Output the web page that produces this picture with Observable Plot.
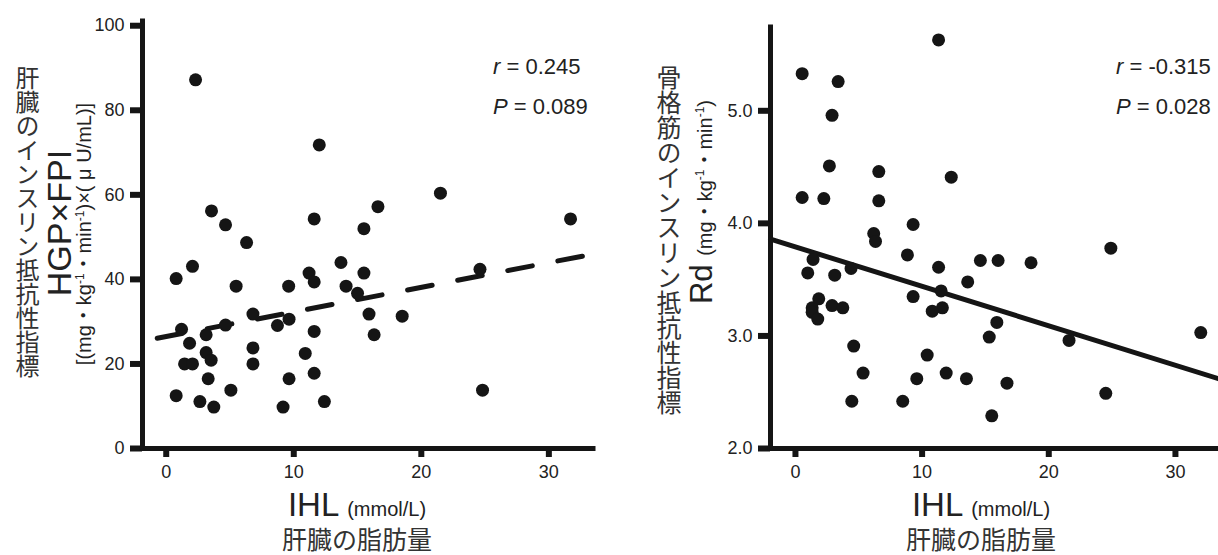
<!DOCTYPE html>
<html>
<head>
<meta charset="utf-8">
<script src="https://cdn.jsdelivr.net/npm/d3@7"></script>
<script src="https://cdn.jsdelivr.net/npm/@observablehq/plot@0.6"></script>
<style>
  html, body { margin: 0; padding: 0; background: #fff; }
  #root { position: relative; width: 1218px; height: 555px; overflow: hidden;
          font-family: "Liberation Sans", Arial, "Noto Sans CJK JP", sans-serif; color: #222; }
  .plot { position: absolute; top: 0; }
  .lbl { position: absolute; white-space: nowrap; line-height: 1; }
  .vjp { position: absolute; writing-mode: vertical-rl; line-height: 1; font-family: "Noto Sans CJK JP", sans-serif; color: #333; }
  .rot { position: absolute; white-space: nowrap; line-height: 1; transform: translate(-50%, -50%) rotate(-90deg); }
  .jp { font-family: "Noto Sans CJK JP", sans-serif; color: #333; }
  sup { font-size: 0.6em; line-height: 0; vertical-align: 0.6em; }
  .stat { position: absolute; font-size: 22px; line-height: 1; white-space: nowrap; }
</style>
</head>
<body>
<div id="root">
  <div id="left" class="plot" style="left:0px"></div>
  <div id="right" class="plot" style="left:620px"></div>
</div>
<script>
// ---- data ----
// Left panel: IHL (mmol/L) vs HGP×FPI
const leftX = [2.3, 12.0, 21.5, 31.7, 16.6, 3.55, 11.6, 4.65, 15.5, 6.3, 13.7, 2.06, 24.6, 11.2, 15.5, 0.78, 11.6, 5.48, 9.6, 14.1, 15.0, 6.8, 15.9, 18.5, 9.63, 8.72, 4.65, 1.2, 11.6, 3.13, 16.3, 1.83, 6.8, 3.13, 10.9, 3.52, 1.44, 2.06, 6.8, 11.6, 3.29, 9.63, 5.07, 24.8, 0.78, 2.64, 12.4, 3.73, 9.16];
const leftY = [87.2, 71.8, 60.4, 54.3, 57.2, 56.2, 54.3, 52.9, 52.0, 48.7, 44.0, 43.1, 42.4, 41.5, 41.5, 40.2, 39.4, 38.4, 38.4, 38.4, 36.7, 31.8, 31.8, 31.3, 30.6, 29.1, 29.2, 28.2, 27.7, 26.9, 26.9, 24.9, 23.8, 22.7, 22.5, 20.9, 20.0, 20.0, 20.0, 17.8, 16.5, 16.5, 13.8, 13.8, 12.5, 11.1, 11.1, 9.8, 9.8];
const leftFitX = [-1.86, 33.5];
const leftFitY = [25.4, 46.0];
const leftXDomain = [-1.86, 33.5];
const leftYDomain = [0, 101];
const leftYTicks = [0, 20, 40, 60, 80, 100];

// Right panel: IHL (mmol/L) vs Rd
const rightX = [11.3, 0.53, 3.37, 2.89, 2.68, 6.58, 12.3, 0.53, 2.24, 6.58, 9.29, 6.18, 6.32, 24.9, 8.84, 14.6, 16.0, 18.6, 1.39, 11.3, 4.39, 0.97, 3.1, 13.6, 11.5, 9.29, 1.84, 2.89, 3.74, 11.6, 10.8, 1.32, 1.32, 1.76, 32.0, 15.9, 21.6, 15.3, 4.6, 10.4, 5.34, 11.9, 9.58, 13.5, 16.7, 24.5, 4.45, 8.47, 15.5];
const rightY = [5.63, 5.33, 5.26, 4.96, 4.51, 4.46, 4.41, 4.23, 4.22, 4.20, 3.99, 3.91, 3.84, 3.78, 3.72, 3.67, 3.67, 3.65, 3.68, 3.61, 3.60, 3.56, 3.54, 3.48, 3.40, 3.35, 3.33, 3.27, 3.25, 3.25, 3.22, 3.25, 3.21, 3.15, 3.03, 3.12, 2.96, 2.99, 2.91, 2.83, 2.67, 2.67, 2.62, 2.62, 2.58, 2.49, 2.42, 2.42, 2.29];
const rightFitX = [-1.97, 33.4];
const rightFitY = [3.86, 2.62];
const rightXDomain = [-1.97, 33.4];
const rightYDomain = [2, 5.74];
const rightYTicks = [2, 3, 4, 5];

const xTicks = [0, 10, 20, 30];

// Text
const leftStatR = "0.245", leftStatP = "0.089";
const rightStatR = "-0.315", rightStatP = "0.028";
const xTitleMain = "IHL", xTitleUnit = "(mmol/L)", xTitleJp = "肝臓の脂肪量";
const leftYJp = "肝臓のインスリン抵抗性指標";
const rightYJp = "骨格筋のインスリン抵抗性指標";

const ink = "#151515";

function panel({xs, ys, fitX, fitY, xDomain, yDomain, yTicks, yFormat, width, marginLeft, marginRight, marginTop, dashed}) {
  const pts = xs.map((x, i) => ({x, y: ys[i]}));
  const fit = fitX.map((x, i) => ({x, y: fitY[i]}));
  return Plot.plot({
    width, height: 555,
    marginLeft, marginRight, marginTop, marginBottom: 107,
    x: {domain: xDomain},
    y: {domain: yDomain},
    style: {fontFamily: '"Liberation Sans", Arial, sans-serif', fontSize: "18px", color: "#222", overflow: "visible", background: "transparent"},
    marks: [
      Plot.axisX({ticks: xTicks, tickSize: 9, strokeWidth: 6, tickPadding: 8, fontSize: 18, label: null, stroke: ink}),
      Plot.axisY({ticks: yTicks, tickSize: 12, strokeWidth: 6, tickPadding: 6, fontSize: 18, label: null, stroke: ink, tickFormat: yFormat}),
      Plot.ruleX([xDomain[0]], {stroke: ink, strokeWidth: 5, strokeLinecap: "square"}),
      Plot.ruleY([yDomain[0]], {stroke: ink, strokeWidth: 5, strokeLinecap: "square"}),
      Plot.line(fit, {x: "x", y: "y", stroke: ink, strokeWidth: 5,
        strokeDasharray: dashed ? "25,26" : null, strokeDashoffset: dashed ? 36 : null}),
      Plot.dot(pts, {x: "x", y: "y", r: 6.5, fill: ink, stroke: null})
    ]
  });
}

document.getElementById("left").appendChild(panel({
  xs: leftX, ys: leftY, fitX: leftFitX, fitY: leftFitY, xDomain: leftXDomain, yDomain: leftYDomain,
  yTicks: leftYTicks, yFormat: d3.format("d"), width: 600, marginLeft: 142, marginRight: 7, marginTop: 21, dashed: true
}));
document.getElementById("right").appendChild(panel({
  xs: rightX, ys: rightY, fitX: rightFitX, fitY: rightFitY, xDomain: rightXDomain, yDomain: rightYDomain,
  yTicks: rightYTicks, yFormat: d3.format(".1f"), width: 598, marginLeft: 150, marginRight: 0, marginTop: 27, dashed: false
}));

// ---- labels ----
const root = document.getElementById("root");
function add(html, cls, style) {
  const d = document.createElement("div");
  d.className = cls;
  d.innerHTML = html;
  d.setAttribute("style", style);
  root.appendChild(d);
  return d;
}
// stats
add(`<i>r</i> = ${leftStatR}`, "stat", "left:493px; top:56px;");
add(`<i>P</i> = ${leftStatP}`, "stat", "left:493px; top:96px;");
add(`<i>r</i> = ${rightStatR}`, "stat", "left:1116px; top:56px;");
add(`<i>P</i> = ${rightStatP}`, "stat", "left:1116px; top:96px;");

// x titles
for (const cx of [357, 981]) {
  add(`<span style="font-size:33px">${xTitleMain}</span> <span style="font-size:20px">${xTitleUnit}</span>`, "lbl",
      `left:${cx - 150}px; width:300px; text-align:center; top:488px; font-size:33px;`);
  add(xTitleJp, "lbl jp", `left:${cx - 150}px; width:300px; text-align:center; top:526px; font-size:25px;`);
}

// y titles (vertical Japanese)
add(leftYJp, "vjp", "left:15px; top:66px; font-size:24px;");
add(rightYJp, "vjp", "left:656px; top:65px; font-size:25px;");

// rotated Latin titles
add("HGP×FPI", "rot", "left:59px; top:223px; font-size:34px;");
add("[(mg・kg<sup>-1</sup>・min<sup>-1</sup>)×( μ U/mL)]", "rot", "left:84px; top:234px; font-size:20px;");
add(`Rd <span style="font-size:20px">(mg・kg<sup>-1</sup>・min<sup>-1</sup>)</span>`, "rot", "left:701px; top:202px; font-size:31px;");
</script>
</body>
</html>
